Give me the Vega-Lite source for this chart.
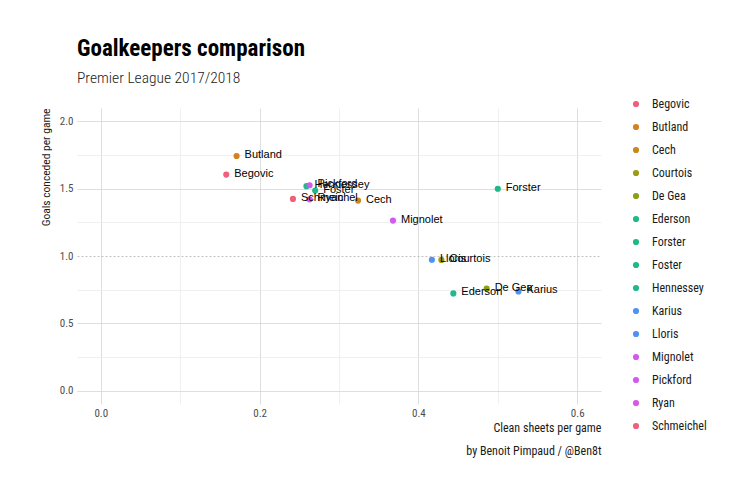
{
  "$schema": "https://vega.github.io/schema/vega-lite/v6.json",
  "autosize": {"type": "none"},
  "width": 524,
  "height": 296,
  "padding": {"left": 77, "top": 108, "right": 149, "bottom": 96},
  "background": "white",
  "config": {
    "view": {"stroke": null},
    "font": "Roboto Condensed, Roboto",
    "axis": {
      "domain": false,
      "ticks": false,
      "labelFont": "Roboto Condensed, Roboto",
      "labelFontSize": 11,
      "labelColor": "#4d4d4d",
      "titleFont": "Roboto Condensed, Roboto",
      "titleFontSize": 12,
      "titleFontWeight": "normal",
      "titleColor": "#1a1a1a"
    }
  },
  "title": {
    "text": "Goalkeepers comparison",
    "subtitle": "Premier League 2017/2018",
    "anchor": "start",
    "frame": "group",
    "font": "Roboto Condensed, Roboto",
    "fontSize": 23,
    "fontWeight": "bold",
    "color": "#000000",
    "subtitleFont": "Roboto Condensed, Roboto",
    "subtitleFontSize": 15.5,
    "subtitleFontWeight": 300,
    "subtitleColor": "#222222",
    "subtitlePadding": 10,
    "offset": 12
  },
  "data": {
    "values": [
      {"name": "Begovic", "clean_sheets": 0.158, "conceded": 1.605},
      {"name": "Butland", "clean_sheets": 0.171, "conceded": 1.743},
      {"name": "Cech", "clean_sheets": 0.324, "conceded": 1.412},
      {"name": "Courtois", "clean_sheets": 0.429, "conceded": 0.971},
      {"name": "De Gea", "clean_sheets": 0.486, "conceded": 0.757},
      {"name": "Ederson", "clean_sheets": 0.444, "conceded": 0.722},
      {"name": "Forster", "clean_sheets": 0.5, "conceded": 1.5},
      {"name": "Foster", "clean_sheets": 0.27, "conceded": 1.486},
      {"name": "Hennessey", "clean_sheets": 0.259, "conceded": 1.519},
      {"name": "Karius", "clean_sheets": 0.526, "conceded": 0.737},
      {"name": "Lloris", "clean_sheets": 0.417, "conceded": 0.972},
      {"name": "Mignolet", "clean_sheets": 0.368, "conceded": 1.263},
      {"name": "Pickford", "clean_sheets": 0.263, "conceded": 1.526},
      {"name": "Ryan", "clean_sheets": 0.263, "conceded": 1.421},
      {"name": "Schmeichel", "clean_sheets": 0.242, "conceded": 1.424}
    ]
  },
  "encoding": {
    "x": {
      "field": "clean_sheets",
      "type": "quantitative",
      "scale": {"domain": [-0.03, 0.63], "nice": false, "zero": false},
      "axis": {
        "title": ["Clean sheets per game", "by Benoit Pimpaud / @Ben8t"],
        "titleAnchor": "end",
        "titleLineHeight": 23,
        "titlePadding": 4,
        "values": [0, 0.1, 0.2, 0.3, 0.4, 0.5, 0.6],
        "labelExpr": "round(datum.value*10)%2==0 ? format(datum.value, '.1f') : ''",
        "labelPadding": 3,
        "gridColor": {"condition": {"test": "round(datum.value*10)%2==0", "value": "#d6d6d6"}, "value": "#ececec"},
        "gridWidth": 0.8
      }
    },
    "y": {
      "field": "conceded",
      "type": "quantitative",
      "scale": {"domain": [-0.1, 2.1], "nice": false, "zero": false},
      "axis": {
        "title": "Goals conceded per game",
        "titleAnchor": "end",
        "titleFontSize": 11.5,
        "titlePadding": 8,
        "values": [0, 0.25, 0.5, 0.75, 1, 1.25, 1.5, 1.75, 2],
        "labelExpr": "round(datum.value*4)%2==0 ? format(datum.value, '.1f') : ''",
        "labelPadding": 4,
        "gridColor": {"condition": [{"test": "datum.value==1", "value": "#b4b4b4"}, {"test": "round(datum.value*4)%2==0", "value": "#d6d6d6"}], "value": "#ececec"},
        "gridDash": {"condition": {"test": "datum.value==1", "value": [2, 2]}, "value": []},
        "gridWidth": 0.8
      }
    }
  },
  "layer": [
    {
      "mark": {"type": "point", "filled": true, "size": 38, "opacity": 1},
      "encoding": {
        "color": {
          "field": "name",
          "type": "nominal",
          "scale": {
            "domain": ["Begovic", "Butland", "Cech", "Courtois", "De Gea", "Ederson", "Forster", "Foster", "Hennessey", "Karius", "Lloris", "Mignolet", "Pickford", "Ryan", "Schmeichel"],
            "range": ["#F0607A", "#D2821E", "#C8881A", "#9C9B14", "#8CA016", "#1FB98A", "#1FB985", "#1FB98A", "#22B88E", "#4F92F5", "#4F92F5", "#D35AF0", "#D35AF0", "#D858E8", "#F0607A"]
          },
          "legend": {
            "title": null,
            "orient": "none",
            "legendX": 553,
            "legendY": -10,
            "symbolType": "circle",
            "symbolSize": 38,
            "labelFont": "Roboto Condensed, Roboto",
            "labelFontSize": 12,
            "labelColor": "#1a1a1a",
            "labelOffset": 10,
            "rowPadding": 11
          }
        }
      }
    },
    {
      "mark": {"type": "text", "align": "left", "baseline": "alphabetic", "dx": 8, "dy": 2, "font": "Liberation Sans, Arial", "fontSize": 11, "color": "#000000"},
      "encoding": {"text": {"field": "name"}}
    }
  ]
}
